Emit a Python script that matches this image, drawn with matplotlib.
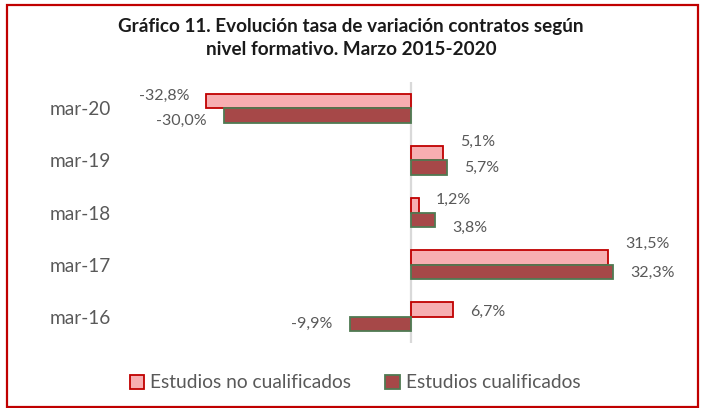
import matplotlib
matplotlib.use("Agg")
import matplotlib.pyplot as plt
from matplotlib.patches import Patch, Rectangle
import numpy as np

# --- data ---
categories = ["mar-16", "mar-17", "mar-18", "mar-19", "mar-20"]
no_cualificados = [6.7, 31.5, 1.2, 5.1, -32.8]
cualificados = [-9.9, 32.3, 3.8, 5.7, -30.0]
series_names = ["Estudios no cualificados", "Estudios cualificados"]
title = "Gráfico 11. Evolución tasa de variación contratos según\nnivel formativo. Marzo 2015-2020"

# vertical nudges (pixels) of the data labels, as placed in the original
nudge_light = [-2, 14, 5, 11, 5]
nudge_dark = [0, -1, -8, 0, -6]

plt.rcParams['font.family'] = ['Lato', 'DejaVu Sans']

W, H = 702, 408
fig = plt.figure(figsize=(W / 100, H / 100), dpi=100)

# plot area in pixels: zero at x=411.5, 6.25 px per unit
ax_left, ax_right, ax_top, ax_bottom = 120, 690, 82, 343
x0, scale = 411.5, 6.25
ax = fig.add_axes([ax_left / W, (H - ax_bottom) / H,
                   (ax_right - ax_left) / W, (ax_bottom - ax_top) / H])

light_fill, light_edge = "#F7AEB1", "#C00000"
dark_fill, dark_edge = "#A64848", "#4F7A52"
text_col = "#595959"

y = np.arange(len(categories))
h = 0.277
ax.barh(y + h / 2, no_cualificados, height=h, color=light_fill,
        edgecolor=light_edge, linewidth=1.3, zorder=3)
ax.barh(y - h / 2, cualificados, height=h, color=dark_fill,
        edgecolor=dark_edge, linewidth=1.3, zorder=3)

ax.axvline(0, color="#D9D9D9", lw=1.6, zorder=2)

def fmt(v):
    return f"{v:.1f}".replace(".", ",") + "%"

for i in range(len(categories)):
    for vals, off, nudge in ((no_cualificados, h / 2, nudge_light),
                             (cualificados, -h / 2, nudge_dark)):
        v = vals[i]
        dx = 17 if v >= 0 else -17
        ax.annotate(fmt(v), xy=(v, y[i] + off), xytext=(dx, nudge[i]),
                    textcoords="offset pixels", ha="left" if v >= 0 else "right",
                    va="center", fontsize=11.5, color=text_col)

ax.set_xlim((ax_left - x0) / scale, (ax_right - x0) / scale)
ax.set_ylim(-0.5, len(categories) - 0.5)
ax.set_xticks([])
ax.set_yticks(y)
ax.set_yticklabels(categories, fontsize=13.7, color=text_col)
ax.tick_params(axis="y", length=0, pad=6.5)
for s in ax.spines.values():
    s.set_visible(False)
ax.patch.set_alpha(0)

fig.text(0.5, 1 - 38 / H, title, ha="center", va="center", fontsize=13.6,
         fontweight="bold", color="#1a1a1a", linespacing=1.45)

handles = [Patch(facecolor=light_fill, edgecolor=light_edge, linewidth=1.3),
           Patch(facecolor=dark_fill, edgecolor=dark_edge, linewidth=1.3)]
fig.legend(handles, series_names, loc="center", bbox_to_anchor=(355 / W, 1 - 383 / H),
           ncol=2, frameon=False, fontsize=13.8, labelcolor=text_col,
           handlelength=0.75, handleheight=0.75, handletextpad=0.3, columnspacing=1.8)

# red frame around the chart
fig.patches.append(Rectangle((7 / W, 1 / H), 691 / W, 402 / H, transform=fig.transFigure,
                             fill=False, edgecolor="#C00000", linewidth=1.6))

fig.savefig("out.png", dpi=100)
